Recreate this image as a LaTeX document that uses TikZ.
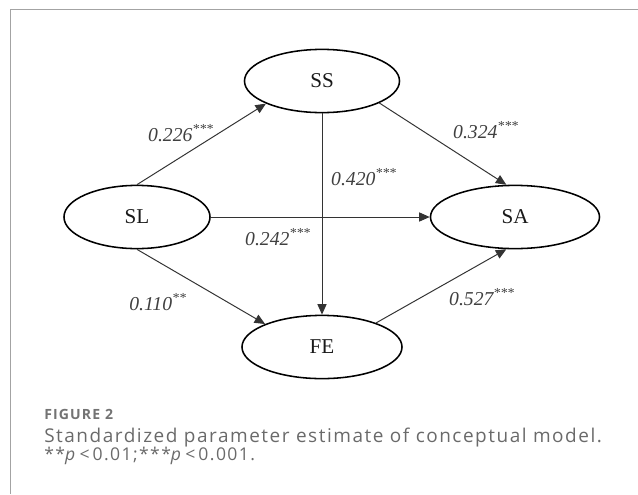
\documentclass[tikz,border=0pt]{standalone}
\usepackage{fontspec}
\setmainfont{Liberation Serif}
\newfontfamily\captionfont[LetterSpace=8]{Open Sans}
\usetikzlibrary{shapes.geometric, arrows.meta}

\definecolor{framegray}{HTML}{A3A3A3}
\definecolor{captiongray}{HTML}{6A6A6A}

\begin{document}
\begin{tikzpicture}[
    x=0.025cm, y=-0.025cm,
    % Define styles
    construct/.style={
        draw=black,
        ellipse,
        line width=1.1pt,
        minimum width=#1,
        minimum height=1.58cm,
        inner sep=0pt,
        font=\fontsize{15}{17}\selectfont,
        text=black!90
    },
    construct/.default=3.9cm,
    effect/.style={
        -{Triangle[length=7.5pt,width=6.5pt]},
        line width=0.7pt,
        black!80
    },
    coef/.style={
        font=\fontsize{14}{16}\selectfont\itshape,
        text=black!75,
        inner sep=1pt
    },
    caplabel/.style={
        font=\captionfont\bfseries\fontsize{10}{12}\selectfont,
        text=black!55,
        anchor=base west,
        inner sep=0pt
    },
    captext/.style={
        font=\captionfont\fontsize{12.5}{14}\selectfont,
        text=captiongray,
        anchor=base west,
        inner sep=0pt
    }
]
\useasboundingbox (0,0) rectangle (638,494);

% ============================================================
% Panel frame
% ============================================================
\draw[framegray, line width=0.8pt] (10.5,494) |- (638,9.5);

% ============================================================
% Latent variables
% ============================================================
\node[construct=3.65cm] (SL) at (137,217) {SL};
\node[construct=3.875cm] (SS) at (322,81) {SS};
\node[construct=4.225cm] (SA) at (515,217) {SA};
\node[construct=4.0cm] (FE) at (322,347) {FE};

% ============================================================
% Structural paths
% ============================================================
\draw[effect] (SL.north) -- (SS.202);
\draw[effect] (SS.-21) -- (SA.105);
\draw[effect] (SS.south) -- (FE.north);
\draw[effect] (SL.east) -- (SA.west);
\draw[effect] (SL.south) -- (FE.158);
\draw[effect] (FE.24) -- (SA.255);

% Path coefficients
\node[coef] (slss) at (181,133) {0.226\textsuperscript{***}};
\node[coef] (sssa) at (486,130) {0.324\textsuperscript{***}};
\node[coef] (ssfe) at (364,177) {0.420\textsuperscript{***}};
\node[coef] (slsa) at (278,237) {0.242\textsuperscript{***}};
\node[coef] (slfe) at (158,302) {0.110\textsuperscript{**}};
\node[coef] (fesa) at (482,297) {0.527\textsuperscript{***}};

% ============================================================
% Caption
% ============================================================
\node[caplabel] (figno) at (44,419) {FIGURE 2};
\node[captext, font=\captionfont\fontsize{13.5}{15}\selectfont] (title) at (44,442) {Standardized parameter estimate of conceptual model.};
\node[captext] (note) at (44,460) {**\textit{p}\,<\,0.01;***\textit{p}\,<\,0.001.};

\end{tikzpicture}
\end{document}
